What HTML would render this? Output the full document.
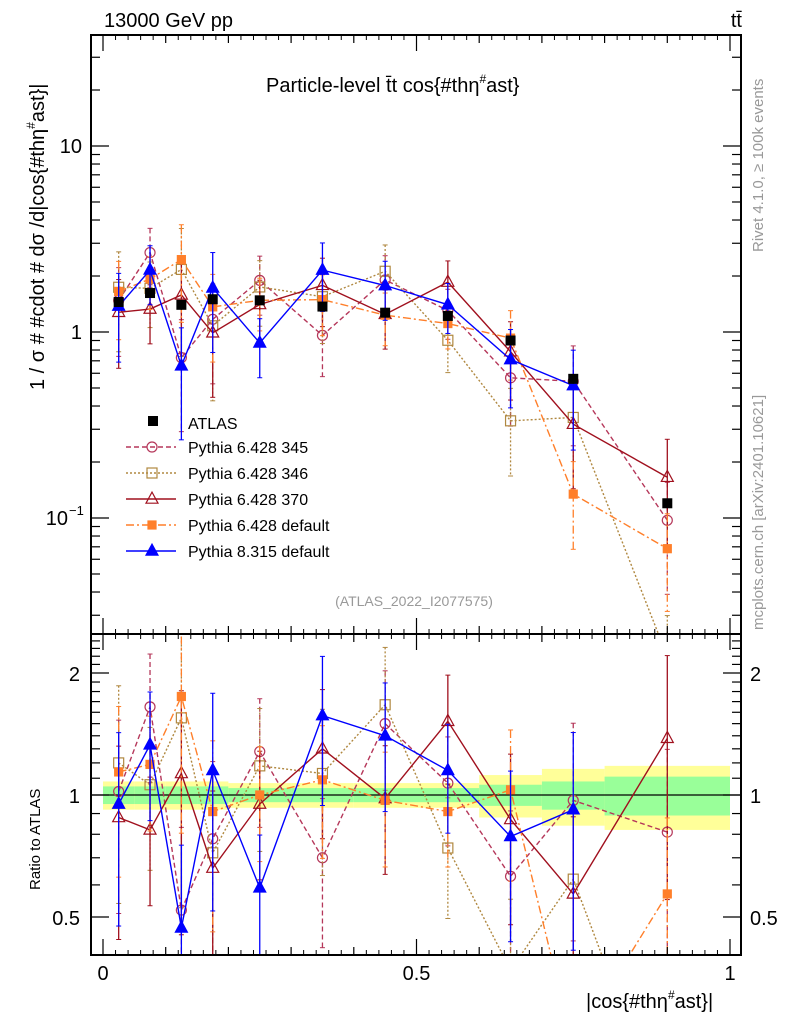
<!DOCTYPE html>
<html><head><meta charset="utf-8">
<style>
html,body{margin:0;background:#fff;overflow:hidden;width:786px;height:1024px;}
svg{display:block;font-family:"Liberation Sans",sans-serif;}
</style></head>
<body>
<svg id="c" width="786" height="1024" xmlns="http://www.w3.org/2000/svg"></svg>
<script>
const binLo=[0,0.05,0.1,0.15,0.2,0.3,0.4,0.5,0.6,0.7,0.8];
const binHi=[0.05,0.1,0.15,0.2,0.3,0.4,0.5,0.6,0.7,0.8,1.0];
const atlas=[1.45,1.62,1.40,1.50,1.48,1.37,1.27,1.22,0.90,0.56,0.12];
const bandGreen=[0.05,0.05,0.05,0.05,0.04,0.04,0.04,0.04,0.06,0.08,0.11];
const bandYellow=[0.08,0.08,0.08,0.08,0.07,0.07,0.07,0.07,0.12,0.16,0.18];
const r345=[1.02,1.65,0.52,0.78,1.28,0.70,1.50,1.07,0.63,0.97,0.81];
const r346=[1.20,1.06,1.55,0.72,1.18,1.13,1.67,0.74,0.37,0.62,0.15];
const r370=[0.88,0.82,1.13,0.66,0.95,1.30,0.98,1.52,0.87,0.57,1.38];
const rdef=[1.14,1.19,1.75,0.91,1.00,1.09,0.97,0.91,1.03,0.24,0.57];
const r8=[0.95,1.33,0.47,1.15,0.59,1.57,1.40,1.15,0.79,0.92,null];
const relErr=[0.5,0.35,0.6,0.55,0.35,0.4,0.35,0.3,0.45,0.55,0.6];
const yTicksMain=[0.1,1,10];
const yTickLabelsMain=["10","1","10"];
const xTicks=[0,0.5,1];
const xTickLabels=["0","0.5","1"];
const rTicks=[0.5,1,2];
const rTickLabels=["0.5","1","2"];

const NS="http://www.w3.org/2000/svg";
const svg=document.getElementById('c');
const L=91,R=741,T=35,M=634,B=955;
const X=v=>103+v*627;
const YM=v=>332-Math.log10(v)*186;
const YR=v=>795-Math.log2(v)*122;
function el(tag,attrs,parent){const e=document.createElementNS(NS,tag);for(const k in attrs)e.setAttribute(k,attrs[k]);(parent||svg).appendChild(e);return e;}
function txt(s,attrs,parent){const e=el('text',attrs,parent);e.textContent=s;return e;}
const clipM=el('clipPath',{id:'cm'});el('rect',{x:L,y:T,width:R-L,height:M-T},clipM);
const clipR=el('clipPath',{id:'cr'});el('rect',{x:L,y:M,width:R-L,height:B-M},clipR);

const gB=el('g',{'clip-path':'url(#cr)'});


binLo.forEach((lo,i)=>{
  const y1=el('rect',{x:X(lo),y:YR(1+bandYellow[i]),width:X(binHi[i])-X(lo),height:YR(1-bandYellow[i])-YR(1+bandYellow[i]),fill:'#ffff99'},gB);
  
  
  const g1=el('rect',{x:X(lo),y:YR(1+bandGreen[i]),width:X(binHi[i])-X(lo),height:YR(1-bandGreen[i])-YR(1+bandGreen[i]),fill:'#99ff99'},gB);
  
  
});
el('line',{x1:L,x2:R,y1:YR(1),y2:YR(1),stroke:'#000','stroke-width':1.2},gB);

const series=[
 {name:'Pythia 6.428 345',r:r345,col:'#b5375a',dash:'5,3',mk:'circle',fill:'none',es:1.0},
 {name:'Pythia 6.428 346',r:r346,col:'#b08840',dash:'2,2',mk:'square',fill:'none',es:1.1},
 {name:'Pythia 6.428 370',r:r370,col:'#a0101e',dash:'',mk:'tri',fill:'none',es:1.0},
 {name:'Pythia 6.428 default',r:rdef,col:'#ff7f2a',dash:'8,3,2,3',mk:'square',fill:'#ff7f2a',es:0.9},
 {name:'Pythia 8.315 default',r:r8,col:'#0000ff',dash:'',mk:'tri',fill:'#0000ff',es:1.0}
];
function marker(g,type,x,y,col,fill,s){
  if(type==='circle')el('circle',{cx:x,cy:y,r:s,fill:'none',stroke:col,'stroke-width':1.2},g);
  else if(type==='square')el('rect',{x:x-s,y:y-s,width:2*s,height:2*s,fill:fill,stroke:col,'stroke-width':1.2},g);
  else el('polygon',{points:`${x},${y-s*1.15} ${x-s},${y+s*0.7} ${x+s},${y+s*0.7}`,fill:fill,stroke:col,'stroke-width':1.2},g);
}
function drawPanel(clip,Yf,valFn){
  const g=el('g',{'clip-path':clip});
  series.forEach((s)=>{
    const gs=el('g',{},g);
    
    
    const pts=[];
    s.r.forEach((r,i)=>{
      if(r==null)return;
      const v=valFn(r,i);const xc=X((binLo[i]+binHi[i])/2);
      const e=relErr[i]*s.es*r;
      const hi=Yf(valFn(r+e,i)), lo=Yf(Math.max(valFn(Math.max(r-e,0.001),i),1e-4));
      el('line',{x1:xc,x2:xc,y1:hi,y2:lo,stroke:s.col,'stroke-width':1.3,'stroke-dasharray':s.dash},gs);
      el('line',{x1:xc-2.5,x2:xc+2.5,y1:hi,y2:hi,stroke:s.col,'stroke-width':1},gs);
      el('line',{x1:xc-2.5,x2:xc+2.5,y1:lo,y2:lo,stroke:s.col,'stroke-width':1},gs);
      pts.push([xc,Yf(v)]);
    });
    el('polyline',{points:pts.map(p=>p.join(',')).join(' '),fill:'none',stroke:s.col,'stroke-width':1.4,'stroke-dasharray':s.dash},gs);
    pts.forEach(p=>marker(gs,s.mk,p[0],p[1],s.col,s.fill,s.mk==='square'?(s.fill!=='none'?4:5):(s.mk==='tri'?6:5)));
  });
  return g;
}
drawPanel('url(#cm)',YM,(r,i)=>r*atlas[i]);
drawPanel('url(#cr)',YR,(r,i)=>r);
const ga=el('g',{'clip-path':'url(#cm)'});


atlas.forEach((v,i)=>{
  const xc=X((binLo[i]+binHi[i])/2);
  el('line',{x1:xc,x2:xc,y1:YM(v*1.06),y2:YM(v*0.94),stroke:'#000','stroke-width':1.2},ga);
  el('rect',{x:xc-5,y:YM(v)-5,width:10,height:10,fill:'#000'},ga);
});

el('rect',{x:L,y:T,width:R-L,height:M-T,fill:'none',stroke:'#000','stroke-width':2});
el('rect',{x:L,y:M,width:R-L,height:B-M,fill:'none',stroke:'#000','stroke-width':2});
for(let k=0;k<=10;k++){const v=k/10,x=X(v),len=(k%5===0)?16:8;
  [[T,1],[M,-1],[M,1],[B,-1]].forEach(([y,d])=>el('line',{x1:x,x2:x,y1:y,y2:y+d*len,stroke:'#000','stroke-width':1.2}));
  if(k<10)for(let j=1;j<5;j++){const xm=X(v+j*0.02);[[T,1],[M,-1],[M,1],[B,-1]].forEach(([y,d])=>el('line',{x1:xm,x2:xm,y1:y,y2:y+d*5,stroke:'#000','stroke-width':1}));}
}
xTicks.forEach((v,i)=>{const t=txt(xTickLabels[i],{x:X(v),y:980,'font-size':20,'text-anchor':'middle'});});
for(let d=-2;d<=1;d++)for(let m=1;m<10;m++){const v=m*Math.pow(10,d),y=YM(v);if(y<T||y>M)continue;const len=m===1?18:9;
  el('line',{x1:L,x2:L+len,y1:y,y2:y,stroke:'#000','stroke-width':1.2});el('line',{x1:R,x2:R-len,y1:y,y2:y,stroke:'#000','stroke-width':1.2});}
yTicksMain.forEach((v,i)=>{const t=txt(yTickLabelsMain[i],{x:v===0.1?68:82,y:YM(v)+7,'font-size':20,'text-anchor':'end'});
  if(v===0.1){txt('−1',{x:69,y:YM(v)-3,'font-size':13});}});
[0.4,0.5,0.6,0.7,0.8,0.9,1,1.1,1.2,1.3,1.4,1.5,1.6,1.7,1.8,1.9,2,2.1,2.2,2.3,2.4,2.5].forEach(v=>{const y=YR(v);if(y<M||y>B)return;const big=(v===0.5||v===1||v===2);
  el('line',{x1:L,x2:L+(big?18:9),y1:y,y2:y,stroke:'#000','stroke-width':1.2});el('line',{x1:R,x2:R-(big?18:9),y1:y,y2:y,stroke:'#000','stroke-width':1.2});});
rTicks.forEach((v,i)=>{txt(rTickLabels[i],{x:80,y:YR(v)+8,'font-size':20,'text-anchor':'end'});txt(rTickLabels[i],{x:750,y:YR(v)+8,'font-size':20});});

txt('13000 GeV pp',{x:104,y:27,'font-size':20});
txt('tt̄',{x:742,y:27,'font-size':20,'text-anchor':'end'});
const tt=txt('Particle-level t̄t cos{#thη',{x:266,y:92,'font-size':20});
const ts=el('tspan',{'font-size':12,dy:-9},tt);ts.textContent='#';const ts2=el('tspan',{dy:9},tt);ts2.textContent='ast}';
txt('(ATLAS_2022_I2077575)',{x:414,y:606,'font-size':14,fill:'#999','text-anchor':'middle'});
const yl=txt('1 / σ # #cdot # dσ /d|cos{#thη',{x:0,y:0,'font-size':20,transform:'translate(44,390) rotate(-90)'});
const yls=el('tspan',{'font-size':12,dy:-9},yl);yls.textContent='#';const yls2=el('tspan',{dy:9},yl);yls2.textContent='ast}|';
txt('Ratio to ATLAS',{x:0,y:0,'font-size':15,transform:'translate(40,890) rotate(-90)'});
const xl=txt('|cos{#thη',{x:586,y:1008,'font-size':20});
const xs=el('tspan',{'font-size':12,dy:-9},xl);xs.textContent='#';const xs2=el('tspan',{dy:9},xl);xs2.textContent='ast}|';
txt('Rivet 4.1.0, ≥ 100k events',{x:0,y:0,'font-size':15,fill:'#999',transform:'translate(763,252) rotate(-90)'});
txt('mcplots.cern.ch [arXiv:2401.10621]',{x:0,y:0,'font-size':15,fill:'#999',transform:'translate(763,630) rotate(-90)'});

const lg=el('g',{});
el('rect',{x:148,y:416,width:10,height:10,fill:'#000'},lg);
txt('ATLAS',{x:188,y:429,'font-size':16},lg);
series.forEach((s,i)=>{const y=447+i*26;
  const ge=el('g',{},lg);
  el('line',{x1:126,x2:176,y1:y,y2:y,stroke:s.col,'stroke-width':1.4,'stroke-dasharray':s.dash},ge);
  marker(ge,s.mk,152,y,s.col,s.fill,s.mk==='square'?(s.fill!=='none'?4:5):(s.mk==='tri'?6:5));
  txt(s.name,{x:188,y:y+6,'font-size':16},ge);
});
</script>
</body></html>
